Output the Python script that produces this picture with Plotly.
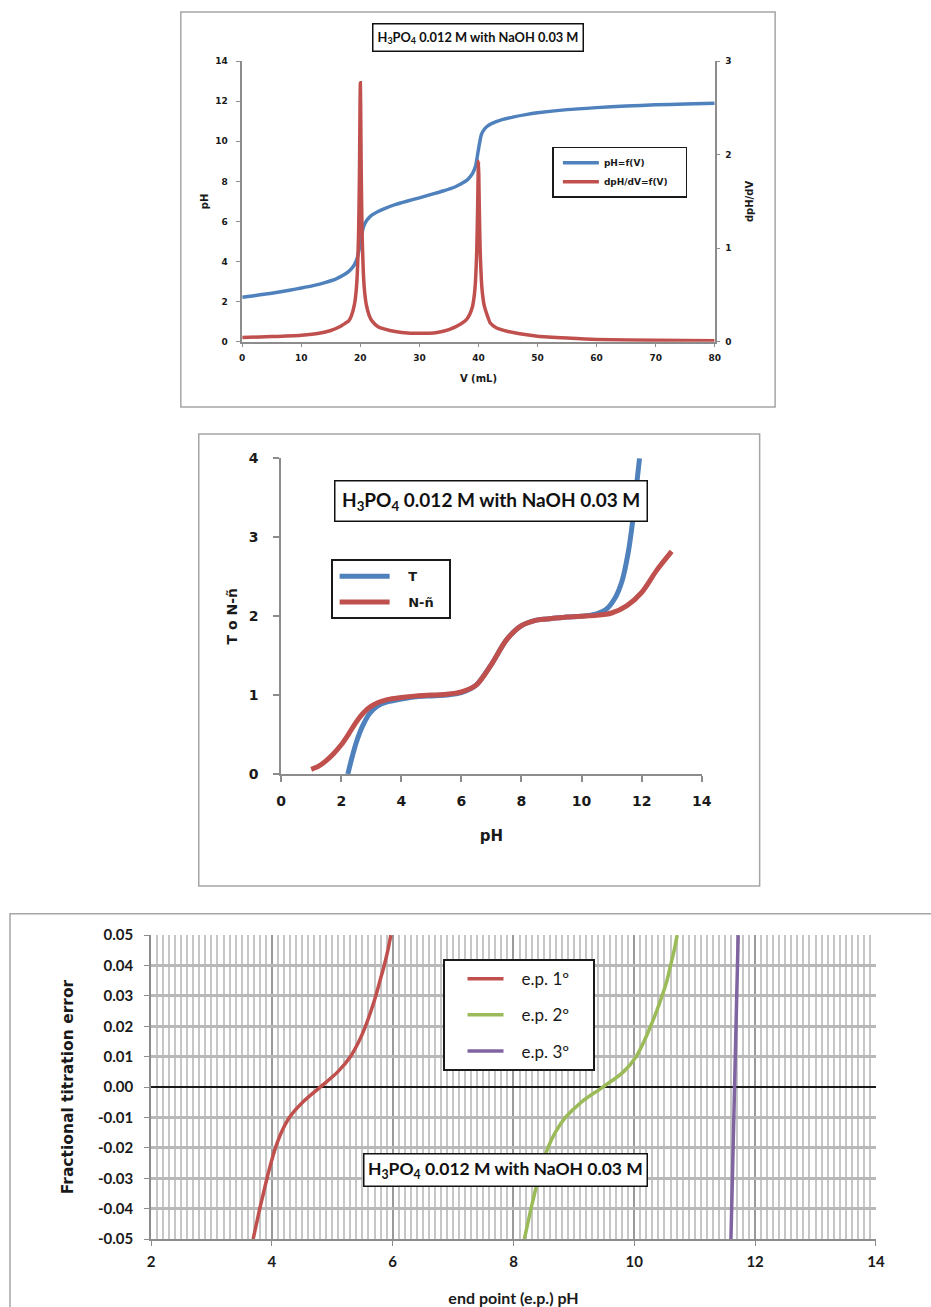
import plotly.graph_objects as go

W, H = 931, 1307

# ---- Titration curve: pH and dpH/dV against titrant volume ----
vol_ph = [0, 2, 4, 6, 8, 10, 12, 14, 16, 17, 18, 18.5, 19, 19.5, 20, 20.5, 21, 21.5, 22,
          23, 24, 26, 28, 30, 32, 34, 36, 37, 38, 38.5, 39, 39.5, 40, 40.5, 41, 41.5, 42,
          43, 44, 46, 48, 50, 55, 60, 65, 70, 75, 80]
ph_curve = [2.22, 2.3, 2.38, 2.47, 2.57, 2.68, 2.8, 2.95, 3.15, 3.3, 3.5, 3.65, 3.85, 4.2,
            4.95, 5.7, 6.02, 6.2, 6.33, 6.5, 6.63, 6.85, 7.02, 7.18, 7.35, 7.52, 7.72, 7.87,
            8.05, 8.2, 8.4, 8.75, 9.6, 10.35, 10.6, 10.75, 10.85, 10.98, 11.08, 11.22, 11.33,
            11.42, 11.58, 11.68, 11.76, 11.82, 11.86, 11.9]

vol_deriv = [0, 5, 10, 13, 15, 16.5, 17.5, 18, 18.5, 19, 19.3, 19.5, 19.7, 19.85, 19.95, 20,
             20.05, 20.15, 20.3, 20.5, 20.7, 21, 21.5, 22, 23, 25, 27, 30, 33, 35, 37, 38,
             38.5, 39, 39.3, 39.5, 39.7, 39.85, 39.95, 40, 40.05, 40.15, 40.3, 40.5, 40.7,
             41, 41.5, 42, 43, 45, 47, 50, 55, 60, 70, 80]
dph_dv = [0.045, 0.055, 0.07, 0.09, 0.12, 0.16, 0.2, 0.22, 0.28, 0.4, 0.55, 0.75, 1.15, 1.8,
          2.55, 2.77, 2.55, 1.8, 1.15, 0.75, 0.55, 0.4, 0.28, 0.22, 0.16, 0.12, 0.1, 0.09,
          0.1, 0.13, 0.19, 0.24, 0.29, 0.38, 0.5, 0.65, 0.95, 1.4, 1.8, 1.93, 1.8, 1.4,
          0.95, 0.65, 0.5, 0.38, 0.28, 0.2, 0.15, 0.11, 0.085, 0.06, 0.04, 0.025, 0.015, 0.012]

# ---- Titration fraction T and N - n-bar against pH ----
ph_t = [2.22, 2.35, 2.5, 2.7, 2.95, 3.2, 3.5, 4.0, 4.5, 5.0, 5.5, 6.0, 6.5, 7.0, 7.5, 8.0,
        8.5, 9.0, 9.5, 10.0, 10.5, 10.8, 11.1, 11.35, 11.55, 11.7, 11.8, 11.93]
t_val = [0.0, 0.2, 0.4, 0.6, 0.77, 0.86, 0.91, 0.95, 0.98, 0.99, 1.0, 1.03, 1.13, 1.39,
         1.7, 1.88, 1.95, 1.97, 1.99, 2.0, 2.03, 2.08, 2.22, 2.45, 2.8, 3.2, 3.55, 4.0]

ph_n = [1.0, 1.25, 1.5, 1.75, 2.0, 2.25, 2.5, 2.75, 3.0, 3.25, 3.5, 4.0, 4.5, 5.0, 5.5,
        6.0, 6.5, 7.0, 7.5, 8.0, 8.5, 9.0, 9.5, 10.0, 10.5, 11.0, 11.5, 12.0, 12.5, 13.0]
n_val = [0.06, 0.1, 0.17, 0.26, 0.37, 0.51, 0.66, 0.78, 0.86, 0.91, 0.94, 0.97, 0.99, 1.0,
         1.01, 1.04, 1.13, 1.39, 1.7, 1.88, 1.95, 1.97, 1.99, 2.0, 2.01, 2.04, 2.13, 2.3,
         2.58, 2.82]

# ---- Fractional titration error against end-point pH ----
err_levels = [-0.05, -0.045, -0.04, -0.035, -0.03, -0.025, -0.02, -0.015, -0.01, -0.005, 0.0,
              0.005, 0.01, 0.015, 0.02, 0.025, 0.03, 0.035, 0.04, 0.045, 0.05]
ep1_ph = [3.69, 3.745, 3.8, 3.86, 3.92, 3.985, 4.06, 4.155, 4.29, 4.51, 4.8, 5.09, 5.3,
          5.44, 5.55, 5.64, 5.72, 5.79, 5.86, 5.92, 5.97]
ep2_ph = [8.18, 8.235, 8.29, 8.35, 8.41, 8.48, 8.57, 8.69, 8.86, 9.12, 9.48, 9.82, 10.03,
          10.16, 10.27, 10.37, 10.46, 10.54, 10.6, 10.66, 10.71]
ep3_err = [-0.05, -0.025, 0.0, 0.025, 0.05]
ep3_ph = [11.6, 11.63, 11.66, 11.69, 11.72]

err_ticks = [0.05, 0.04, 0.03, 0.02, 0.01, 0.0, -0.01, -0.02, -0.03, -0.04, -0.05]
err_tick_text = ["0.05", "0.04", "0.03", "0.02", "0.01", "0.00",
                 "-0.01", "-0.02", "-0.03", "-0.04", "-0.05"]

TITLE = "H<sub>3</sub>PO<sub>4</sub> 0.012 M with NaOH 0.03 M"

BLUE = "#4F81BD"
RED = "#C0504D"
GREEN = "#9BBB59"
PURPLE = "#8064A2"
AXIS = "#8c8c8c"
FRAME = "#a6a6a6"
NB = "\u00a0"

# pixel position on the page -> paper fraction
SX, OX = 0.985, 4.0
SY, OY = 0.984, 11.0


def px(x):
    return ((x - OX) / SX) / W


def py(y):
    return 1 - ((y - OY) / SY) / H


def bold(family, size, color="#1a1a1a"):
    return dict(family=family, size=size, color=color, weight="bold")


fig = go.Figure()

# panel 1
fig.add_trace(go.Scatter(x=vol_ph, y=ph_curve, mode="lines", name="pH=f(V)" + NB * 4,
                         line=dict(color=BLUE, width=3.5, shape="spline", smoothing=0.6),
                         xaxis="x", yaxis="y", legend="legend"))
fig.add_trace(go.Scatter(x=vol_deriv, y=dph_dv, mode="lines", name="dpH/dV=f(V)" + NB * 4,
                         line=dict(color=RED, width=3.5, shape="spline", smoothing=0.5),
                         xaxis="x", yaxis="y2", legend="legend"))

# panel 2
fig.add_trace(go.Scatter(x=ph_t, y=t_val, mode="lines", name=NB * 3 + "T",
                         line=dict(color=BLUE, width=5, shape="spline", smoothing=0.8),
                         xaxis="x2", yaxis="y3", legend="legend2", legendgroup="t"))
fig.add_trace(go.Scatter(x=ph_n, y=n_val, mode="lines", name=NB * 3 + "N-ñ" + NB * 2,
                         line=dict(color=RED, width=5, shape="spline", smoothing=0.8),
                         xaxis="x2", yaxis="y3", legend="legend2", legendgroup="n"))

# panel 3
ep_names = [NB * 3 + "e.p. 1º" + NB * 4, NB * 3 + "e.p. 2º" + NB * 4, NB * 3 + "e.p. 3º" + NB * 4]
fig.add_trace(go.Scatter(x=ep1_ph, y=err_levels, mode="lines", name=ep_names[0],
                         line=dict(color=RED, width=3.5, shape="spline", smoothing=1.0),
                         xaxis="x3", yaxis="y4", legend="legend3", legendgroup="a"))
fig.add_trace(go.Scatter(x=ep2_ph, y=err_levels, mode="lines", name=ep_names[1],
                         line=dict(color=GREEN, width=3.5, shape="spline", smoothing=1.0),
                         xaxis="x3", yaxis="y4", legend="legend3", legendgroup="b"))
fig.add_trace(go.Scatter(x=ep3_ph, y=ep3_err, mode="lines", name=ep_names[2],
                         line=dict(color=PURPLE, width=3.5),
                         xaxis="x3", yaxis="y4", legend="legend3", legendgroup="c"))

f1 = "DejaVu Sans"
fc = "Lato"

layout = dict(
    width=W, height=H,
    margin=dict(l=0, r=0, t=0, b=0),
    paper_bgcolor="white", plot_bgcolor="white",
    # panel 1 axes
    xaxis=dict(domain=[px(241.5), px(714.5)], anchor="y", range=[0, 80], dtick=10,
               showline=True, linecolor=AXIS, linewidth=1.5, ticks="outside", ticklen=4,
               tickcolor=AXIS, showgrid=False, zeroline=False, tickfont=bold(f1, 9),
               ticklabelstandoff=3,
               title=dict(text="V (mL)", font=bold(f1, 10), standoff=13)),
    yaxis=dict(domain=[py(342), py(62)], anchor="x", range=[0, 14], dtick=2,
               showline=True, linecolor=AXIS, linewidth=1.5, ticks="outside", ticklen=4,
               tickcolor=AXIS, showgrid=False, zeroline=False, tickfont=bold(f1, 9),
               ticklabelstandoff=7,
               title=dict(text="pH", font=bold(f1, 10), standoff=5)),
    yaxis2=dict(domain=[py(342), py(62)], anchor="x", overlaying="y", side="right",
                range=[0, 3], dtick=1, showline=True, linecolor=AXIS, linewidth=1.5,
                ticks="outside", ticklen=4, tickcolor=AXIS, showgrid=False, zeroline=False,
                tickfont=bold(f1, 9), ticklabelstandoff=3,
                title=dict(text="dpH/dV", font=bold(f1, 10), standoff=15)),
    # panel 2 axes
    xaxis2=dict(domain=[px(280.5), px(701.5)], anchor="y3", range=[0, 14], dtick=2,
                showline=True, linecolor=AXIS, linewidth=2, ticks="outside", ticklen=6,
                tickcolor=AXIS, tickwidth=2, showgrid=False, zeroline=False,
                tickfont=bold(f1, 14), ticklabelstandoff=7,
                title=dict(text="pH", font=bold(f1, 15), standoff=23)),
    yaxis3=dict(domain=[py(773.3), py(458.3)], anchor="x2", range=[0, 4], dtick=1,
                showline=True, linecolor=AXIS, linewidth=2, ticks="outside", ticklen=6,
                tickcolor=AXIS, tickwidth=2, showgrid=False, zeroline=False,
                tickfont=bold(f1, 14), ticklabelstandoff=12,
                title=dict(text="T o N-ñ", font=bold(f1, 14), standoff=8)),
    # panel 3 axes
    xaxis3=dict(domain=[px(150.2), px(875.9)], anchor="y4", range=[2, 14], dtick=2,
                showline=True, linecolor=AXIS, linewidth=1.5, ticks="outside", ticklen=5,
                tickcolor=AXIS, showgrid=True, gridcolor="#9a9a9a", gridwidth=1.5,
                minor=dict(dtick=0.1, showgrid=True, gridcolor="#c6c6c6", gridwidth=1.5),
                zeroline=False, tickfont=bold(fc, 15), ticklabelstandoff=3,
                title=dict(text="end point (e.p.) pH", font=bold(fc, 16), standoff=24)),
    yaxis4=dict(domain=[py(1237.3), py(934)], anchor="x3", range=[-0.05, 0.05],
                tickmode="array", tickvals=err_ticks, ticktext=err_tick_text,
                showline=True, linecolor=AXIS, linewidth=1.5, ticks="outside", ticklen=5,
                tickcolor=AXIS, showgrid=True, gridcolor="#b8b8b8", gridwidth=3,
                zeroline=True, zerolinecolor="#1a1a1a", zerolinewidth=2,
                tickfont=bold(fc, 15), ticklabelstandoff=8,
                title=dict(text="Fractional titration error", font=bold(f1, 15.5), standoff=21)),
    legend=dict(x=px(552), y=py(147.5), xanchor="left", yanchor="top",
                bordercolor="#1a1a1a", borderwidth=1.5, bgcolor="white",
                font=bold(f1, 9), itemwidth=36, indentation=4),
    legend2=dict(x=px(330), y=py(559), xanchor="left", yanchor="top",
                 bordercolor="#1a1a1a", borderwidth=2, bgcolor="white",
                 font=bold(f1, 13), itemwidth=50, indentation=2,
                 traceorder="grouped", tracegroupgap=6),
    legend3=dict(x=px(442), y=py(958), xanchor="left", yanchor="top",
                 bordercolor="#1a1a1a", borderwidth=2, bgcolor="white",
                 font=dict(family=fc, size=17, color="#1a1a1a"), itemwidth=36,
                 indentation=18, traceorder="grouped", tracegroupgap=11),
    showlegend=True,
)
fig.update_layout(**layout)

# panel frames
frames = [(180, 13, 775, 407), (198, 434, 759.5, 885), (9, 912.7, 960, 1330)]
for x0, y0, x1, y1 in frames:
    fig.add_shape(type="rect", xref="paper", yref="paper",
                  x0=px(x0), x1=px(x1), y0=py(y1), y1=py(y0),
                  line=dict(color=FRAME, width=1.5), fillcolor="rgba(0,0,0,0)", layer="below")

# boxed titles
for cx, cy, size, pad in [(477.5, 38.3, 12.8, 4), (491, 500.8, 19, 6.5), (505.5, 1168.5, 17.5, 3.5)]:
    fig.add_annotation(x=px(cx), y=py(cy), xref="paper", yref="paper", text=TITLE,
                       xanchor="center", yanchor="middle",
                       showarrow=False, font=bold(fc, size, "#111111"),
                       bordercolor="#111111", borderwidth=1.5, borderpad=pad, bgcolor="white")

fig.write_html("out.html")
